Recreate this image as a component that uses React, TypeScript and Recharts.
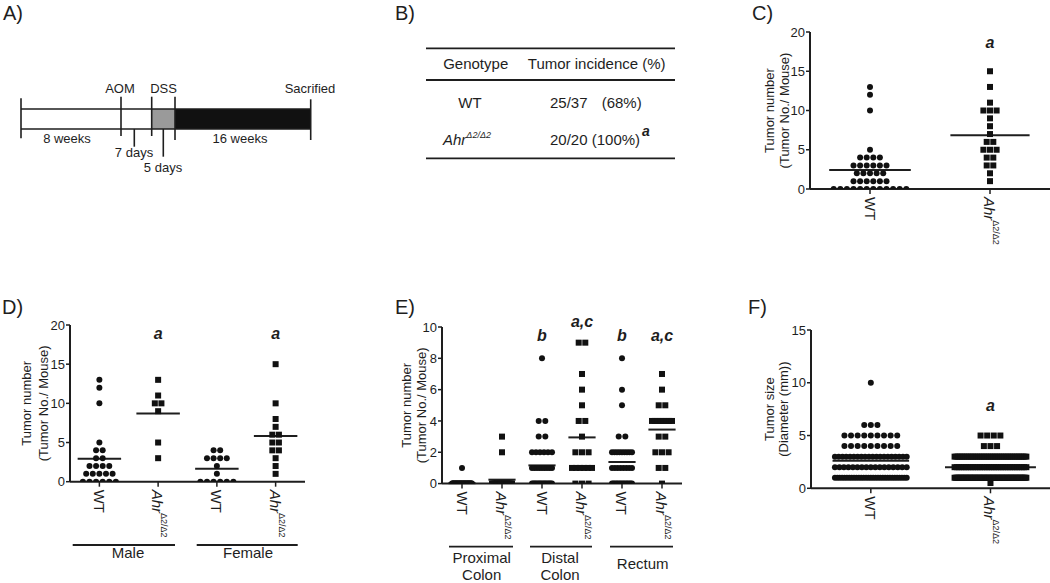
import React from 'react';
import { ScatterChart, Scatter, XAxis, YAxis, ReferenceLine, ReferenceDot } from 'recharts';

const FONT = '"Liberation Sans", Arial, Helvetica, sans-serif';
const INK = '#1e1e1e';
const DOT = '#111111';

// B) incidence table
const tableHead = ['Genotype', 'Tumor incidence (%)'];
const tableCounts = ['25/37', '20/20'];
const tablePct = ['(68%)', '(100%)'];

// C) / D) tumor number per mouse
const dMaleWt = [13, 12, 10, 5, 4, 4, 3, 3, 2, 2, 2, 2, 1, 1, 1, 1, 1, 0, 0, 0, 0, 0, 0];
const dMaleAhr = [13, 11, 10, 10, 9, 5, 3];
const dFemaleWt = [4, 4, 3, 3, 3, 3, 2, 1, 0, 0, 0, 0, 0, 0];
const dFemaleAhr = [15, 10, 8, 7, 6, 6, 5, 5, 4, 4, 3, 2, 1];
const cWt = [...dMaleWt, ...dFemaleWt];
const cAhr = [...dMaleAhr, ...dFemaleAhr];

// E) tumor number by region, counts of mice per tumor number
const eLevels = [0, 1, 2, 3, 4, 5, 6, 7, 8, 9];
const eProxWt = [36, 1, 0, 0, 0, 0, 0, 0, 0, 0];
const eProxAhr = [18, 0, 1, 1, 0, 0, 0, 0, 0, 0];
const eDistWt = [17, 9, 6, 2, 2, 0, 0, 0, 1, 0];
const eDistAhr = [3, 6, 3, 1, 2, 1, 1, 1, 0, 2];
const eRectWt = [15, 8, 9, 2, 0, 1, 1, 0, 1, 0];
const eRectAhr = [1, 2, 3, 2, 8, 2, 1, 1, 0, 0];

// F) tumor diameter (mm), counts of tumors per size
const fLevels = [0.5, 1, 2, 3, 4, 5, 6, 10];
const fWt = [0, 31, 17, 20, 9, 9, 3, 1];
const fAhr = [1, 57, 32, 40, 3, 4, 0, 0];

const fromCounts = (levels: number[], counts: number[]) =>
  levels.flatMap((v, i) => Array(counts[i]).fill(v));

const swarm = (values: number[], gi: number) => {
  const total: Record<string, number> = {};
  values.forEach(v => { total[v] = (total[v] || 0) + 1; });
  const seen: Record<string, number> = {};
  return values.map(v => {
    const k = seen[v] || 0;
    seen[v] = k + 1;
    return { x: gi, y: v, k, n: total[v] };
  });
};

const mean = (a: number[]) => a.reduce((s, v) => s + v, 0) / a.length;

type Grp = { name: string; values: number[]; square?: boolean };
type Note = { i: number; y: number; text: string };

const GenoTick = ({ x, y, payload, names }: any) => {
  const name = names[Math.round(payload.value)];
  const ty = y + 1;
  return (
    <text transform={`rotate(90 ${x} ${ty})`} x={x} y={ty} dominantBaseline="central"
      fontFamily={FONT} fontSize={15} fill={INK}>
      {name === 'WT' ? 'WT' : (
        <>
          <tspan fontStyle="italic">Ahr</tspan>
          <tspan fontSize={9} dy={-6}>Δ2/Δ2</tspan>
        </>
      )}
    </text>
  );
};

function DotPanel({ plot, groups, yMax, yTicks, notes, capFrac, half, yLabel, ylx }: {
  plot: { l: number; r: number; t: number; b: number };
  groups: Grp[]; yMax: number; yTicks: number[]; notes: Note[]; capFrac: number;
  half?: number[]; yLabel: string[]; ylx: number[];
}) {
  const padL = 80, padT = 20, padB = 100;
  const left = plot.l - padL, top = plot.t - padT;
  const width = plot.r - left, height = plot.b - top + padB;
  const band = (plot.r - plot.l) / groups.length;
  const cap = band * capFrac;
  const names = groups.map(g => g.name);
  const cy = padT + (plot.b - plot.t) / 2;

  const mark = (p: any, square?: boolean) => {
    const d = p.payload ?? p;
    const s = d.n > 1 ? Math.min(6.6, cap / (d.n - 1)) : 0;
    const cx = p.cx + (d.k - (d.n - 1) / 2) * s;
    return square
      ? <rect x={cx - 3} y={p.cy - 3} width={6} height={6} fill={DOT} />
      : <circle cx={cx} cy={p.cy} r={3} fill={DOT} />;
  };

  return (
    <div style={{ position: 'absolute', left, top, width, height }}>
      <ScatterChart width={width} height={height}
        margin={{ top: padT, right: 0, bottom: padB - 60, left: padL - 40 }}>
        <XAxis type="number" dataKey="x" domain={[-0.5, groups.length - 0.5]}
          ticks={groups.map((_, i) => i)} interval={0} height={60} tickSize={5}
          allowDataOverflow axisLine={{ stroke: INK, strokeWidth: 2 }}
          tickLine={{ stroke: INK, strokeWidth: 1.5 }}
          tick={(p: any) => <GenoTick {...p} names={names} />} />
        <YAxis type="number" dataKey="y" domain={[0, yMax]} ticks={yTicks} width={40}
          allowDataOverflow tickSize={4} tickMargin={1}
          axisLine={{ stroke: INK, strokeWidth: 2 }} tickLine={{ stroke: INK, strokeWidth: 1.5 }}
          tick={{ fontSize: 13, fill: INK, fontFamily: FONT }} />
        {groups.map((g, i) => (
          <Scatter key={'s' + i} data={swarm(g.values, i)} isAnimationActive={false}
            shape={(p: any) => mark(p, g.square)} />
        ))}
        {groups.map((g, i) => {
          const h = half ? half[i] : 0.35;
          const m = mean(g.values);
          return (
            <ReferenceLine key={'m' + i} segment={[{ x: i - h, y: m }, { x: i + h, y: m }]}
              stroke={INK} strokeWidth={2} ifOverflow="visible" />
          );
        })}
        {notes.map((n, j) => (
          <ReferenceDot key={'n' + j} x={n.i} y={n.y} r={0} ifOverflow="visible"
            shape={(p: any) => (
              <text x={p.cx} y={p.cy} textAnchor="middle" dominantBaseline="central"
                fontFamily={FONT} fontSize={16} fontWeight="bold" fontStyle="italic" fill={INK}>
                {n.text}
              </text>
            )} />
        ))}
      </ScatterChart>
      <svg width={width} height={height} style={{ position: 'absolute', left: 0, top: 0, pointerEvents: 'none' }}>
        {yLabel.map((t, i) => {
          const x = padL + ylx[i];
          return (
            <text key={i} x={x} y={cy} transform={`rotate(-90 ${x} ${cy})`} textAnchor="middle"
              dominantBaseline="central" fontFamily={FONT} fontSize={13} fill={INK}>{t}</text>
          );
        })}
      </svg>
    </div>
  );
}

const numLabel = ['Tumor number', '(Tumor No./ Mouse)'];

export default function App() {
  const txt = { fontFamily: FONT, fill: INK } as const;
  return (
    <div style={{ position: 'fixed', left: 0, top: 0, width: 1050, height: 583, background: '#fff', overflow: 'hidden' }}>
      <DotPanel plot={{ l: 810, r: 1050, t: 32, b: 189 }} yMax={20} yTicks={[0, 5, 10, 15, 20]}
        groups={[{ name: 'WT', values: cWt }, { name: 'Ahr', values: cAhr, square: true }]}
        notes={[{ i: 1, y: 18.6, text: 'a' }]} capFrac={0.62} half={[0.34, 0.33]}
        yLabel={numLabel} ylx={[-41, -26]} />
      <DotPanel plot={{ l: 70, r: 305, t: 325, b: 481.7 }} yMax={20} yTicks={[0, 5, 10, 15, 20]}
        groups={[
          { name: 'WT', values: dMaleWt }, { name: 'Ahr', values: dMaleAhr, square: true },
          { name: 'WT', values: dFemaleWt }, { name: 'Ahr', values: dFemaleAhr, square: true },
        ]}
        notes={[{ i: 1, y: 18.9, text: 'a' }, { i: 3, y: 18.9, text: 'a' }]} capFrac={0.6}
        half={[0.37, 0.37, 0.37, 0.37]} yLabel={numLabel} ylx={[-43, -26]} />
      <DotPanel plot={{ l: 441.7, r: 681.7, t: 326.7, b: 483.3 }} yMax={10} yTicks={[0, 2, 4, 6, 8, 10]}
        groups={[
          { name: 'WT', values: fromCounts(eLevels, eProxWt) },
          { name: 'Ahr', values: fromCounts(eLevels, eProxAhr), square: true },
          { name: 'WT', values: fromCounts(eLevels, eDistWt) },
          { name: 'Ahr', values: fromCounts(eLevels, eDistAhr), square: true },
          { name: 'WT', values: fromCounts(eLevels, eRectWt) },
          { name: 'Ahr', values: fromCounts(eLevels, eRectAhr), square: true },
        ]}
        notes={[
          { i: 2, y: 9.46, text: 'b' }, { i: 3, y: 10.38, text: 'a,c' },
          { i: 4, y: 9.46, text: 'b' }, { i: 5, y: 9.46, text: 'a,c' },
        ]}
        capFrac={0.5} half={[0.34, 0.34, 0.34, 0.34, 0.34, 0.34]} yLabel={numLabel} ylx={[-35, -20]} />
      <DotPanel plot={{ l: 810.7, r: 1050, t: 330, b: 488.3 }} yMax={15} yTicks={[0, 5, 10, 15]}
        groups={[{ name: 'WT', values: fromCounts(fLevels, fWt) }, { name: 'Ahr', values: fromCounts(fLevels, fAhr), square: true }]}
        notes={[{ i: 1, y: 7.8, text: 'a' }]} capFrac={0.6} half={[0.32, 0.38]}
        yLabel={['Tumor size', '(Diameter (mm))']} ylx={[-41.4, -27.4]} />

      <svg width={1050} height={583} style={{ position: 'absolute', left: 0, top: 0, pointerEvents: 'none' }}>
        {/* panel letters */}
        <g {...txt} fontSize={20}>
          <text x={3} y={20}>A)</text>
          <text x={395} y={20}>B)</text>
          <text x={752} y={20}>C)</text>
          <text x={2} y={314}>D)</text>
          <text x={395} y={314}>E)</text>
          <text x={748} y={314}>F)</text>
        </g>

        {/* A) timeline */}
        <g stroke={INK} strokeWidth={1.6}>
          <rect x={151.7} y={109} width={23.3} height={20} fill="#9a9a9a" stroke="none" />
          <rect x={175} y={109} width={135.7} height={20} fill="#111" stroke="none" />
          <line x1={21} y1={109} x2={310.7} y2={109} />
          <line x1={21} y1={129} x2={310.7} y2={129} />
          <line x1={21} y1={98.3} x2={21} y2={138.3} />
          <line x1={121} y1={96.7} x2={121} y2={136} />
          <line x1={151.7} y1={96.7} x2={151.7} y2={136} />
          <line x1={175} y1={96.7} x2={175} y2={140} />
          <line x1={310.7} y1={99.3} x2={310.7} y2={140} />
          <line x1={134.3} y1={129} x2={134.3} y2={146.7} />
          <line x1={163.3} y1={129} x2={163.3} y2={156.7} />
        </g>
        <g {...txt} fontSize={13} textAnchor="middle">
          <text x={120} y={93}>AOM</text>
          <text x={163.5} y={93}>DSS</text>
          <text x={310} y={93}>Sacrified</text>
          <text x={67} y={143}>8 weeks</text>
          <text x={240} y={143}>16 weeks</text>
          <text x={134} y={157}>7 days</text>
          <text x={163} y={171.5}>5 days</text>
        </g>

        {/* B) table */}
        <g stroke={INK} strokeWidth={1.8}>
          <line x1={426} y1={48.3} x2={675} y2={48.3} />
          <line x1={426} y1={80} x2={675} y2={80} />
          <line x1={426} y1={158.3} x2={675} y2={158.3} />
        </g>
        <g {...txt} fontSize={15}>
          <text x={475.7} y={69} textAnchor="middle">{tableHead[0]}</text>
          <text x={596.7} y={69} textAnchor="middle">{tableHead[1]}</text>
          <text x={470} y={108} textAnchor="middle">WT</text>
          <text x={550} y={108}>{tableCounts[0]}</text>
          <text x={641.7} y={108} textAnchor="end">{tablePct[0]}</text>
          <text x={443} y={145}>
            <tspan fontStyle="italic">Ahr</tspan>
            <tspan fontSize={9} fontStyle="italic" dy={-7}>Δ2/Δ2</tspan>
          </text>
          <text x={550} y={145}>{tableCounts[1]} {tablePct[1]}</text>
          <text x={642} y={136} fontWeight="bold" fontStyle="italic" fontSize={14}>a</text>
        </g>

        {/* D) group bars */}
        <g stroke={INK} strokeWidth={1.8}>
          <line x1={72.7} y1={545} x2={175} y2={545} />
          <line x1={196.7} y1={545} x2={297.7} y2={545} />
          <line x1={449} y1={546.7} x2={513} y2={546.7} />
          <line x1={530} y1={546.7} x2={592} y2={546.7} />
          <line x1={610} y1={546.7} x2={673} y2={546.7} />
        </g>
        <g {...txt} fontSize={15} textAnchor="middle">
          <text x={128} y={558}>Male</text>
          <text x={248} y={558}>Female</text>
          <text x={481.7} y={563}>Proximal</text>
          <text x={481.7} y={580}>Colon</text>
          <text x={560} y={563}>Distal</text>
          <text x={560} y={580}>Colon</text>
          <text x={642.7} y={569}>Rectum</text>
        </g>
      </svg>
    </div>
  );
}
